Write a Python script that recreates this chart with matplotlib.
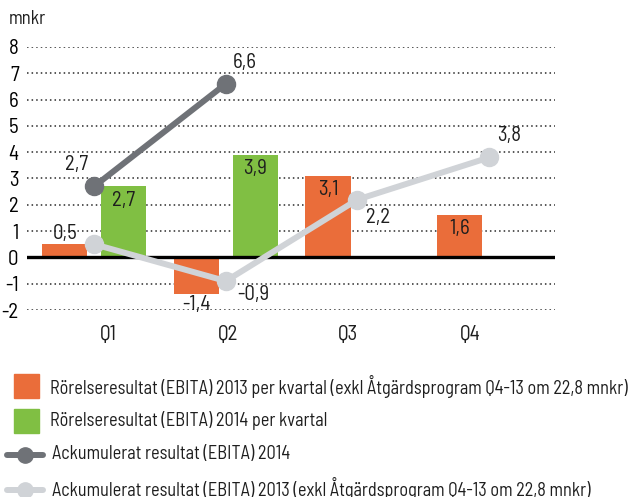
import matplotlib.pyplot as plt
from matplotlib.patches import Rectangle
from matplotlib.lines import Line2D

quarters = ["Q1", "Q2", "Q3", "Q4"]
ebita_2013 = [0.5, -1.4, 3.1, 1.6]
ebita_2014 = [2.7, 3.9]
acc_2014 = [2.7, 6.6]
acc_2013 = [0.5, -0.9, 2.2, 3.8]
y_ticks = [-2, -1, 0, 1, 2, 3, 4, 5, 6, 7, 8]

legend_labels = [
    "Rörelseresultat (EBITA) 2013 per kvartal (exkl Åtgärdsprogram Q4-13 om 22,8 mnkr)",
    "Rörelseresultat (EBITA) 2014 per kvartal",
    "Ackumulerat resultat (EBITA) 2014",
    "Ackumulerat resultat (EBITA) 2013 (exkl Åtgärdsprogram Q4-13 om 22,8 mnkr)",
]

ORANGE = "#ea6d3a"
GREEN = "#80bf43"
DARK = "#6f7277"
LIGHT = "#d0d3d7"

plt.rcParams["font.family"] = ["Barlow Semi Condensed", "DejaVu Sans"]
plt.rcParams["font.weight"] = "normal"
plt.rcParams["text.color"] = "#1e1e1e"

W, H = 635, 497
fig = plt.figure(figsize=(W / 100, H / 100), dpi=100)
ax = fig.add_axes([27 / W, 1 - 310 / H, (555 - 27) / W, (310 - 47) / H])

x = list(range(len(quarters)))
bw = 0.342
off = 0.224

# bars
ax.bar([i - off for i in x], ebita_2013, width=bw, color=ORANGE, zorder=2)
ax.bar([i + off for i in x[:len(ebita_2014)]], ebita_2014, width=bw, color=GREEN, zorder=2)

# zero line
ax.axhline(0, color="black", lw=2.4, zorder=3)

# accumulated lines
ax.plot(x[:len(acc_2014)], acc_2014, color=DARK, lw=4.3, marker="o", ms=13, zorder=5)
ax.plot(x, acc_2013, color=LIGHT, lw=4.3, marker="o", ms=13, zorder=4)

# dotted grid
for t in y_ticks:
    if t != 0:
        ax.axhline(t, color="#2a2a2a", lw=1.1, ls=(0, (1, 2.0)), zorder=1)

ax.set_xlim(-0.51, 3.5)
ax.set_ylim(-2, 8)
ax.set_yticks(y_ticks)
ax.set_yticklabels([str(t) for t in y_ticks], fontsize=15)
ax.tick_params(axis="y", length=0, pad=6)
ax.set_xticks([])
for s in ax.spines.values():
    s.set_visible(False)

# quarter labels
q_pos = [0.106, 1.017, 1.929, 2.855]
for q, p in zip(quarters, q_pos):
    ax.text(p, -2.95, q, ha="center", va="center", fontsize=15)

fig.text(9 / W, 1 - 19 / H, "mnkr", ha="left", va="center", fontsize=13.5)

fmt = lambda v: f"{v:.1f}".replace(".", ",")
fs = 15


def label(text, xy, dx, dy):
    ax.annotate(text, xy, xytext=(dx, dy), textcoords="offset pixels",
                ha="center", va="center", fontsize=fs, zorder=6)


label(fmt(ebita_2013[0]), (0 - off, ebita_2013[0]), 0, 11)
label(fmt(ebita_2013[1]), (1 - off, ebita_2013[1]), 0, -10)
label(fmt(ebita_2013[2]), (2 - off, ebita_2013[2]), 0, -14)
label(fmt(ebita_2013[3]), (3 - off, ebita_2013[3]), 0, -13)
for i, v in enumerate(ebita_2014):
    label(fmt(v), (i + off, v), 0, -14)
label(fmt(acc_2014[0]), (0, acc_2014[0]), -18, 22)
label(fmt(acc_2014[1]), (1, acc_2014[1]), 19, 21)
label(fmt(acc_2013[1]), (1, acc_2013[1]), 27, -13)
label(fmt(acc_2013[2]), (2, acc_2013[2]), 21, -18)
label(fmt(acc_2013[3]), (3, acc_2013[3]), 20, 22)


# legend (pixel positions from the top-left corner)
def py(y):
    return 1 - y / H


tf = fig.transFigure
fig.add_artist(Rectangle((14 / W, py(398)), 25 / W, 24 / H, color=ORANGE, transform=tf))
fig.add_artist(Rectangle((14 / W, py(433)), 25 / W, 24 / H, color=GREEN, transform=tf))
for col, yy in [(DARK, 455), (LIGHT, 490)]:
    fig.add_artist(Line2D([7 / W, 43 / W], [py(yy)] * 2, color=col, lw=4.3,
                          solid_capstyle="round", transform=tf))
    fig.add_artist(Line2D([25 / W], [py(yy)], color=col, marker="o", ms=11, transform=tf))

leg_texts = []
for lab, xx, yy in zip(legend_labels, [50, 50, 52, 52], [386, 420, 454, 488]):
    leg_texts.append(fig.text(xx / W, py(yy), lab, ha="left", va="center", fontsize=13))

# fit the long legend line to the width it has in the original
r = fig.canvas.get_renderer()
w = leg_texts[0].get_window_extent(r).width
size = 13 * 580 / w
for t in leg_texts:
    t.set_fontsize(size)

fig.savefig("out.png", dpi=100)
